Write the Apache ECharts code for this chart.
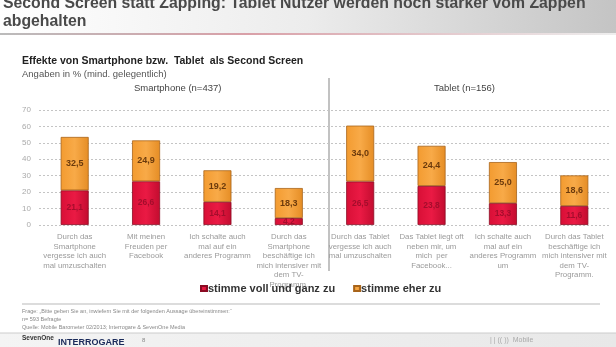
<!DOCTYPE html>
<html><head><meta charset="utf-8">
<script src="https://cdn.jsdelivr.net/npm/echarts@6/dist/echarts.min.js"></script>
<style>html,body{margin:0;padding:0;background:#fff}#c{width:616px;height:347px}</style>
</head><body><div id="c"></div>
<script>
const categories = [
  "Durch das\nSmartphone\nvergesse ich auch\nmal umzuschalten",
  "Mit meinen\nFreuden per\nFacebook",
  "Ich schalte auch\nmal auf ein\nanderes Programm",
  "Durch das\nSmartphone\nbeschäftige ich\nmich intensiver mit\ndem TV-\nProgramm.",
  "Durch das Tablet\nvergesse ich auch\nmal umzuschalten",
  "Das Tablet liegt oft\nneben mir, um\nmich  per\nFacebook...",
  "Ich schalte auch\nmal auf ein\nanderes Programm\num",
  "Durch das Tablet\nbeschäftige ich\nmich intensiver mit\ndem TV-\nProgramm."
];
const voll = [21.1, 26.6, 14.1, 4.2, 26.5, 23.8, 13.3, 11.6];
const eher = [32.5, 24.9, 19.2, 18.3, 34.0, 24.4, 25.0, 18.6];
const yTicks = [0, 10, 20, 30, 40, 50, 60, 70];
const fmt = v => v.toFixed(1).replace('.', ',');

const chart = echarts.init(document.getElementById('c'), null, {renderer: 'canvas'});
chart.setOption({
  animation: false,
  backgroundColor: '#fff',
  textStyle: {fontFamily: 'Liberation Sans, Arial, sans-serif'},
  grid: {left: 39, right: 6, top: 110, bottom: 122, containLabel: false},
  legend: {
    data: ['stimme voll und ganz zu', 'stimme eher zu'],
    left: 200, top: 283, padding: 0, itemWidth: 6, itemHeight: 5, itemGap: 18, icon: 'rect',
    textStyle: {fontSize: 11, fontWeight: 'bold', color: '#333', padding: [0, 0, 0, -4]}
  },
  xAxis: {
    type: 'category', data: categories,
    axisLine: {show: false}, axisTick: {show: false},
    axisLabel: {interval: 0, color: '#9a9a9a', fontSize: 7.8, lineHeight: 9.6, margin: 7}
  },
  yAxis: {
    type: 'value', min: 0, max: 70, interval: 10,
    axisLine: {show: false}, axisTick: {show: false},
    axisLabel: {color: '#aaa', fontSize: 8, margin: 8, formatter: v => yTicks.includes(v) ? String(v) : ''},
    splitLine: {lineStyle: {color: '#c4c4c4', type: [2, 2], width: 1}}
  },
  series: [
    {
      name: 'stimme voll und ganz zu', type: 'bar', stack: 's', barWidth: 28,
      data: voll,
      itemStyle: {color: new echarts.graphic.LinearGradient(0,0,1,0,[{offset:0,color:'#d80f36'},{offset:0.5,color:'#ea1a44'},{offset:1,color:'#c20c2f'}]), borderColor: '#8a0a22', borderWidth: 0.8},
      label: {show: true, position: 'inside', color: '#a40d2c', fontSize: 8.5, fontWeight: 'bold', formatter: p => fmt(p.value)}
    },
    {
      name: 'stimme eher zu', type: 'bar', stack: 's', barWidth: 28,
      data: eher,
      itemStyle: {color: new echarts.graphic.LinearGradient(0,0,1,0,[{offset:0,color:'#f39b30'},{offset:0.5,color:'#f8aa48'},{offset:1,color:'#e58d25'}]), borderColor: '#a8641a', borderWidth: 0.8},
      label: {show: true, position: 'inside', color: '#6b3a0c', fontSize: 9, fontWeight: 'bold', formatter: p => fmt(p.value)}
    }
  ],
  graphic: [
    {type: 'rect', left: 0, top: 0, shape: {width: 616, height: 33}, z: -1,
     style: {fill: new echarts.graphic.LinearGradient(0,0,1,0,[{offset:0,color:'#ffffff'},{offset:0.5,color:'#ececec'},{offset:1,color:'#c4c4c4'}])}},
    {type: 'text', left: 3, top: -5, style: {text: 'Second Screen statt Zapping: Tablet Nutzer werden noch stärker vom Zappen\nabgehalten', font: 'bold 15.8px Liberation Sans, Arial, sans-serif', fill: '#4a4a4a', lineHeight: 17.5}},
    {type: 'rect', left: 0, top: 33, shape: {width: 616, height: 2}, style: {fill: new echarts.graphic.LinearGradient(0,0,1,0,[{offset:0,color:'#bbbbbb'},{offset:0.4,color:'#d9a0a8'},{offset:1,color:'#eeeeee'}])}},
    {type: 'text', left: 22, top: 56, style: {text: 'Effekte von Smartphone bzw.  Tablet  als Second Screen', font: 'bold 10.5px Liberation Sans, Arial, sans-serif', fill: '#222'}},
    {type: 'text', left: 22, top: 69, style: {text: 'Angaben in % (mind. gelegentlich)', font: '9.5px Liberation Sans, Arial, sans-serif', fill: '#555'}},
    {type: 'text', left: 134, top: 83, style: {text: 'Smartphone (n=437)', font: '9.5px Liberation Sans, Arial, sans-serif', fill: '#444'}},
    {type: 'text', left: 434, top: 83, style: {text: 'Tablet (n=156)', font: '9.5px Liberation Sans, Arial, sans-serif', fill: '#444'}},
    {type: 'line', shape: {x1: 329, y1: 78, x2: 329, y2: 271}, style: {stroke: '#999', lineWidth: 1.2}},
    {type: 'line', shape: {x1: 22, y1: 304, x2: 600, y2: 304}, style: {stroke: '#d0d0d0', lineWidth: 1.5}},
    {type: 'text', left: 22, top: 307, style: {text: 'Frage: „Bitte geben Sie an, inwiefern Sie mit der folgenden Aussage übereinstimmen:“\nn= 593 Befragte\nQuelle: Mobile Barometer 02/2013; Interrogare & SevenOne Media', font: '5.5px Liberation Sans, Arial, sans-serif', fill: '#888', lineHeight: 8}},
    {type: 'rect', left: 0, top: 333, shape: {width: 616, height: 14}, z: -1, style: {fill: new echarts.graphic.LinearGradient(0,0,1,0,[{offset:0,color:'#f4f4f4'},{offset:1,color:'#e8e8e8'}])}},
    {type: 'line', shape: {x1: 0, y1: 333, x2: 616, y2: 333}, style: {stroke: '#ccc', lineWidth: 1}},
    {type: 'text', left: 22, top: 335, style: {text: 'SevenOne', font: 'bold 6.5px Liberation Sans, Arial, sans-serif', fill: '#333'}},
    {type: 'text', left: 58, top: 338, style: {text: 'INTERROGARE', font: 'bold 9px Liberation Sans, Arial, sans-serif', fill: '#1a2a5a'}},
    {type: 'text', left: 142, top: 337, style: {text: '8', font: '6px Liberation Sans, Arial, sans-serif', fill: '#888'}},
    {type: 'text', left: 490, top: 337, style: {text: '| | (( ))  Mobile  ', font: '7px Liberation Sans, Arial, sans-serif', fill: '#aaa'}}
  ]
});
</script></body></html>
